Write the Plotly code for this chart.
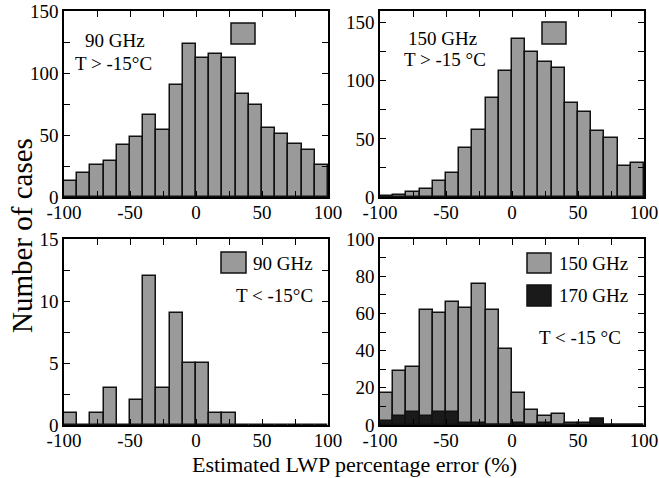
import plotly.graph_objects as go

# ---- data ----
bin_left = list(range(-100, 100, 10))          # histogram bin left edges (%)
bin_width = 10
counts_90_warm = [13, 19, 26, 29, 42, 48, 66, 54, 90, 123, 112, 115, 112, 83, 74, 56, 51, 43, 38, 26]
counts_150_warm = [1, 2, 4, 7, 14, 21, 42, 58, 85, 108, 136, 125, 116, 111, 81, 73, 57, 51, 27, 29]
counts_90_cold = [1, 0, 1, 3, 0, 2, 12, 3, 9, 5, 5, 1, 1, 0, 0, 0, 0, 0, 0, 0]
counts_150_cold = [17, 29, 31, 62, 60, 66, 63, 76, 62, 41, 17, 8, 5, 6, 1, 1, 3, 0, 0, 0]
counts_170_cold = [2, 5, 7, 5, 7, 7, 1, 1, 0, 0, 1, 0, 1, 0, 0, 0, 3, 0, 0, 0]

x_ticks = [-100, -75, -50, -25, 0, 25, 50, 75, 100]
x_ticktext = ["-100", "", "-50", "", "0", "", "50", "", "100"]

y_ticks_tl = [0, 25, 50, 75, 100, 125, 150]
y_text_tl = ["0", "", "50", "", "100", "", "150"]
y_ticks_tr = [0, 25, 50, 75, 100, 125, 150]
y_text_tr = ["0", "", "50", "", "100", "", "150"]
y_ticks_bl = [0, 2.5, 5, 7.5, 10, 12.5, 15]
y_text_bl = ["0", "", "5", "", "10", "", "15"]
y_ticks_br = [0, 10, 20, 30, 40, 50, 60, 70, 80, 90, 100]
y_text_br = ["0", "", "20", "", "40", "", "60", "", "80", "", "100"]

GRAY = "#9a9a9a"
BLACK = "#1a1a1a"
EDGE = "#111111"
FONT = "Liberation Serif"

centers = [b + bin_width / 2 for b in bin_left]

W, H = 659, 478


def px_x(p):
    return p / W


def px_y(p):
    return 1 - p / H


fig = go.Figure()


def add_bar(vals, color, xa, ya, name):
    fig.add_trace(go.Bar(
        x=centers, y=vals, width=bin_width, name=name,
        marker=dict(color=color, line=dict(color=EDGE, width=1.5)),
        xaxis=xa, yaxis=ya, showlegend=False,
    ))


add_bar(counts_90_warm, GRAY, "x", "y", "90 GHz")
add_bar(counts_150_warm, GRAY, "x2", "y2", "150 GHz")
add_bar(counts_90_cold, GRAY, "x3", "y3", "90 GHz")
add_bar(counts_150_cold, GRAY, "x4", "y4", "150 GHz")
add_bar(counts_170_cold, BLACK, "x4", "y4", "170 GHz")


def xaxis(domain, anchor):
    return dict(domain=domain, anchor=anchor, range=[-100, 100],
                tickvals=x_ticks, ticktext=x_ticktext,
                ticks="inside", ticklen=6, tickwidth=1.3, tickcolor="black",
                ticklabelstandoff=-3,
                showline=True, linecolor="black", linewidth=1.5, mirror="ticks",
                showgrid=False, zeroline=False, fixedrange=True,
                tickfont=dict(family=FONT, size=19, color="black"))


def yaxis(domain, anchor, rng, vals, text):
    return dict(domain=domain, anchor=anchor, range=rng,
                tickvals=vals, ticktext=text,
                ticks="inside", ticklen=6, tickwidth=1.3, tickcolor="black",
                showline=True, linecolor="black", linewidth=1.5, mirror="ticks",
                showgrid=False, zeroline=False, fixedrange=True,
                tickfont=dict(family=FONT, size=19, color="black"))


xl = [px_x(64), px_x(328)]
xr = [px_x(380), px_x(644)]
yt = [px_y(197), px_y(11)]
yb = [px_y(425), px_y(239)]

fig.update_layout(
    width=W, height=H,
    margin=dict(l=0, r=0, t=0, b=0, autoexpand=False),
    paper_bgcolor="white", plot_bgcolor="white",
    barmode="overlay", bargap=0,
    font=dict(family=FONT, size=19, color="black"),
    xaxis=xaxis(xl, "y"), yaxis=yaxis(yt, "x", [0, 150], y_ticks_tl, y_text_tl),
    xaxis2=xaxis(xr, "y2"), yaxis2=yaxis(yt, "x2", [0, 160], y_ticks_tr, y_text_tr),
    xaxis3=xaxis(xl, "y3"), yaxis3=yaxis(yb, "x3", [0, 15], y_ticks_bl, y_text_bl),
    xaxis4=xaxis(xr, "y4"), yaxis4=yaxis(yb, "x4", [0, 100], y_ticks_br, y_text_br),
)


# legend swatches (decorative keys)
def swatch(x0, y0, x1, y1, color):
    fig.add_shape(type="rect", xref="paper", yref="paper",
                  x0=px_x(x0), x1=px_x(x1), y0=px_y(y1), y1=px_y(y0),
                  fillcolor=color, line=dict(color=EDGE, width=1.5))


swatch(231, 23, 255, 44, GRAY)
swatch(542, 22, 566, 44, GRAY)
swatch(221, 252, 246, 273, GRAY)
swatch(527, 253, 551, 273, GRAY)
swatch(527, 285, 551, 306, BLACK)


def label(text, x, y, xanchor="left", size=19, angle=0):
    fig.add_annotation(text=text, xref="paper", yref="paper",
                       x=px_x(x), y=px_y(y), xanchor=xanchor, yanchor="middle",
                       showarrow=False, textangle=angle,
                       font=dict(family=FONT, size=size, color="black"))


label("90 GHz", 83, 40)
label("T > -15°C", 73, 63)
label("150 GHz", 406, 38)
label("T > -15 °C", 402, 59)
label("90 GHz", 251, 263)
label("T < -15°C", 315, 295, xanchor="right")
label("150 GHz", 557, 263)
label("170 GHz", 557, 295)
label("T < -15 °C", 537, 337)

label("Estimated LWP percentage error (%)", 354, 464, xanchor="center", size=22)
label("Number of cases", 22, 236, xanchor="center", size=29, angle=-90)

fig.write_html("out.html", config={"displayModeBar": False},
               post_script="document.body.style.margin='0';document.body.style.overflow='hidden';")
